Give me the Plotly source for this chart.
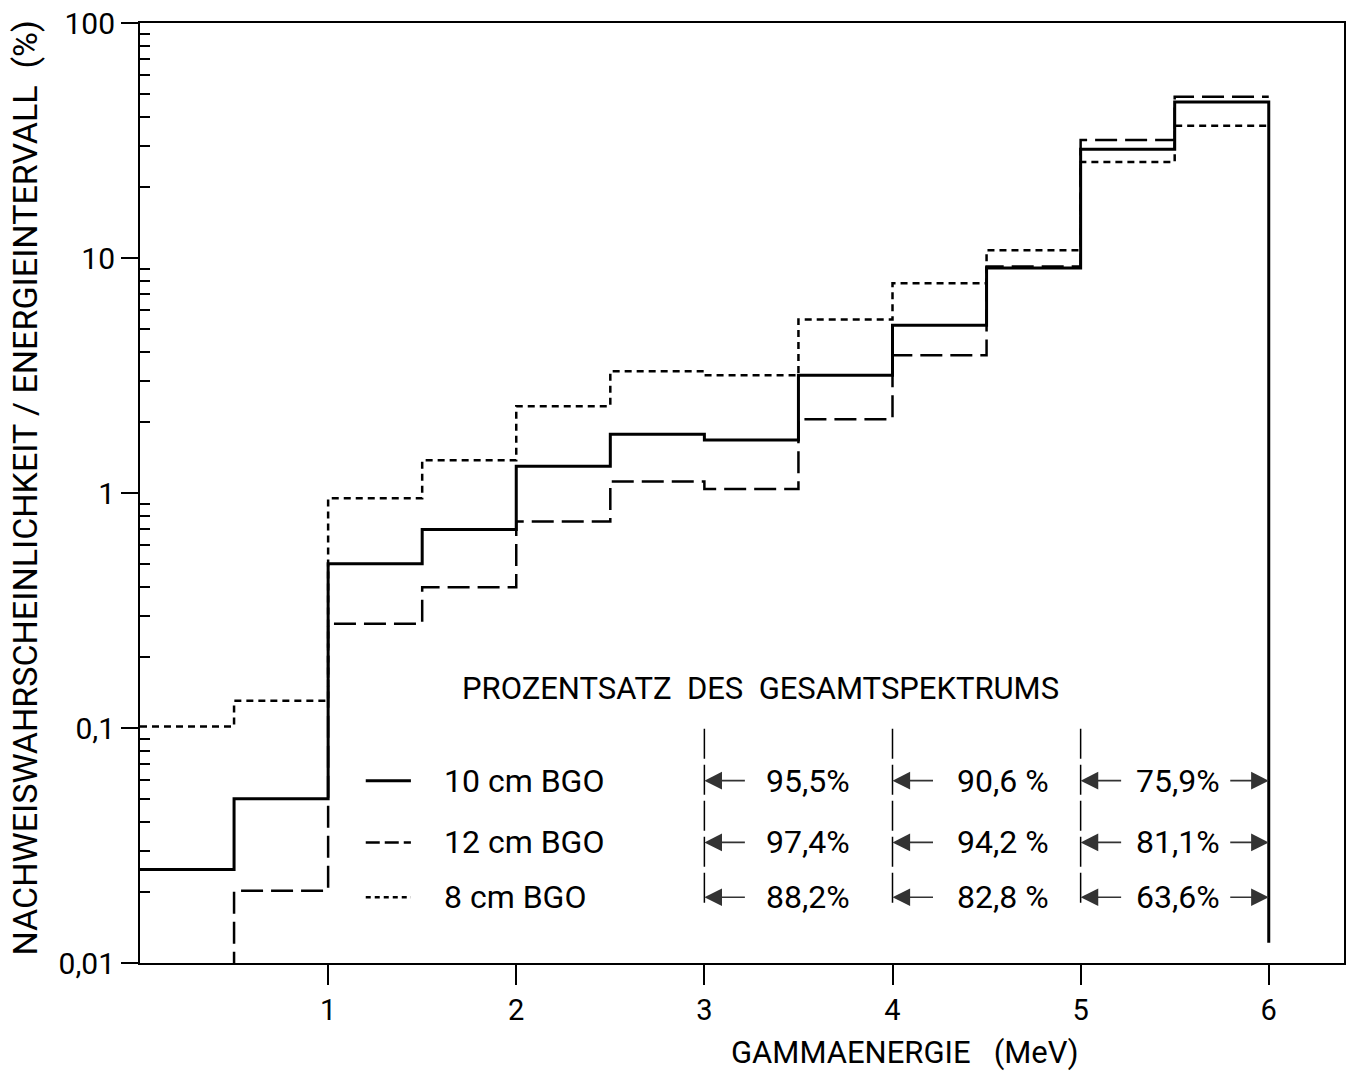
import plotly.graph_objects as go
import math

# ---------------- data ----------------
bin_starts = [0.0, 0.5, 1.0, 1.5, 2.0, 2.5, 3.0, 3.5, 4.0, 4.5, 5.0, 5.5]
bin_end = 6.0

bgo_10cm = [0.025, 0.050, 0.50, 0.70, 1.30, 1.78, 1.68, 3.17, 5.17, 9.07, 29.0, 46.1]
bgo_12cm = [0.005, 0.0203, 0.278, 0.397, 0.757, 1.12, 1.04, 2.06, 3.86, 9.2, 31.8, 48.5]
bgo_8cm = [0.1015, 0.1305, 0.95, 1.38, 2.34, 3.30, 3.17, 5.48, 7.81, 10.8, 25.6, 36.5]
drop_at_end = 0.0122  # lower end of the vertical line at 6 MeV

series_names = ["10 cm BGO", "12 cm BGO", "8 cm BGO"]
interval_bounds = [3, 4, 5]  # lower bounds of the percentage intervals (MeV)
percent_labels = [
    ["95,5%", "90,6 %", "75,9%"],
    ["97,4%", "94,2 %", "81,1%"],
    ["88,2%", "82,8 %", "63,6%"],
]
x_ticks = [1, 2, 3, 4, 5, 6]
y_ticks = [0.01, 0.1, 1, 10, 100]
y_ticktext = ["0,01", "0,1", "1", "10", "100"]

FONT = "Roboto, Liberation Sans, DejaVu Sans, sans-serif"

fig = go.Figure()

def step_xy(vals, drop=None):
    xs = list(bin_starts) + [bin_end]
    ys = list(vals) + [vals[-1]]
    if drop is not None:
        xs.append(bin_end)
        ys.append(drop)
    return xs, ys

# solid 10 cm
x, y = step_xy(bgo_10cm, drop_at_end)
fig.add_trace(go.Scatter(x=x, y=y, mode="lines", line=dict(color="black", width=3, shape="hv"),
                         showlegend=False))
# dashed 12 cm (starts at 0.5 MeV rising from below the axis)
x12 = [0.5] + bin_starts[1:] + [bin_end]
y12 = [bgo_12cm[0]] + bgo_12cm[1:] + [bgo_12cm[-1]]
fig.add_trace(go.Scatter(x=x12, y=y12, mode="lines",
                         line=dict(color="black", width=2.5, shape="hv", dash="22px,8px"),
                         showlegend=False))
# dotted 8 cm
x, y = step_xy(bgo_8cm)
fig.add_trace(go.Scatter(x=x, y=y, mode="lines",
                         line=dict(color="black", width=2.5, shape="hv", dash="7px,5px"),
                         showlegend=False))

# ---------------- annotation block ----------------
row_y = [0.0597, 0.0326, 0.01905]          # data y of the three rows
sample_styles = [dict(width=3), dict(width=2.5, dash="14px,5px"), dict(width=2.5, dash="5px,4px")]
for ry, st, name in zip(row_y, sample_styles, series_names):
    fig.add_trace(go.Scatter(x=[1.20, 1.44], y=[ry, ry], mode="lines",
                             line=dict(color="black", **st), showlegend=False))
    fig.add_annotation(x=1.605, y=math.log10(ry), text=name, showarrow=False, xanchor="left",
                       yanchor="middle", font=dict(family=FONT, size=32, color="black"))

# vertical interval markers
for xb in interval_bounds:
    fig.add_trace(go.Scatter(x=[xb, xb], y=[0.0993, 0.0171], mode="lines",
                             line=dict(color="black", width=1.5, dash="30px,6px"), showlegend=False))

text_x = [3.55, 4.59, 5.52]
for r, ry in enumerate(row_y):
    for c, xb in enumerate(interval_bounds):
        fig.add_annotation(x=xb, y=math.log10(ry), ax=42, ay=0, text="", showarrow=True,
                           arrowhead=2, arrowsize=2.2, arrowwidth=1.6, arrowcolor="#333")
        fig.add_annotation(x=text_x[c], y=math.log10(ry), text=percent_labels[r][c], showarrow=False,
                           xanchor="center", yanchor="middle",
                           font=dict(family=FONT, size=32, color="black"))
    fig.add_annotation(x=bin_end, y=math.log10(ry), ax=-40, ay=0, text="", showarrow=True,
                       arrowhead=2, arrowsize=2.2, arrowwidth=1.6, arrowcolor="#333")

fig.add_annotation(x=3.296, y=-0.8335, text="PROZENTSATZ  DES  GESAMTSPEKTRUMS", showarrow=False,
                   xanchor="center", yanchor="middle", font=dict(family=FONT, size=31, color="black"))

# axis titles
fig.add_annotation(xref="paper", yref="paper", x=-0.0954, y=0.505,
                   text="NACHWEISWAHRSCHEINLICHKEIT / ENERGIEINTERVALL  (%)", textangle=-90,
                   showarrow=False, xanchor="center", yanchor="middle",
                   font=dict(family=FONT, size=34, color="black"))
fig.add_annotation(xref="x", yref="paper", x=4.065, y=-0.0954, text="GAMMAENERGIE   (MeV)",
                   showarrow=False, xanchor="center", yanchor="middle",
                   font=dict(family=FONT, size=31, color="black"))

minor_vals = [m * 10 ** k for k in range(-2, 2) for m in range(2, 10)]

fig.update_layout(
    width=1351, height=1074,
    margin=dict(l=140, r=5, t=20, b=111),
    paper_bgcolor="white", plot_bgcolor="white",
    font=dict(family=FONT, color="black"),
    xaxis=dict(range=[0, 6.4], tickmode="array", tickvals=x_ticks, ticks="outside", ticklen=20,
               tickwidth=1.5, tickcolor="black", showline=True, linewidth=2, linecolor="black",
               mirror=True, showgrid=False, zeroline=False, tickfont=dict(size=29, family=FONT)),
    yaxis=dict(type="log", range=[-2, 2], tickmode="array", tickvals=y_ticks, ticktext=y_ticktext,
               ticks="outside", ticklen=17, tickwidth=1.5, tickcolor="black", showline=True,
               linewidth=2, linecolor="black", mirror=True, showgrid=False, zeroline=False,
               tickfont=dict(size=30, family=FONT),
               minor=dict(tickmode="array", tickvals=minor_vals, ticks="inside", ticklen=10,
                          tickwidth=1.5, tickcolor="black", showgrid=False)),
)

fig.write_html("out.html")
